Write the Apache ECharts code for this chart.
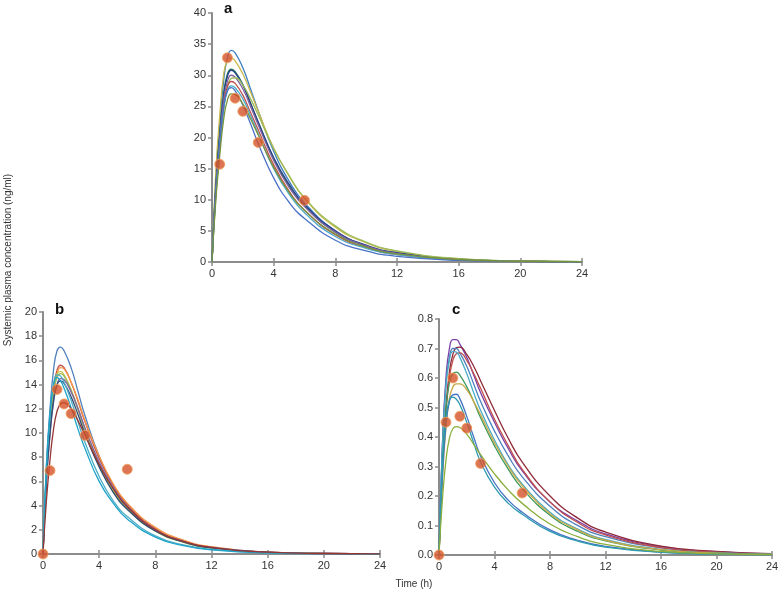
<!DOCTYPE html>
<html>
<head>
<meta charset="utf-8">
<script src="https://cdn.jsdelivr.net/npm/echarts@6/dist/echarts.min.js"></script>
<style>html,body{margin:0;padding:0;background:#fff}#c{width:784px;height:595px}</style>
</head>
<body>
<div id="c"></div>
<script>
// Time grid of the simulated curves (h)
var times = [0, 0.25, 0.5, 0.75, 1, 1.25, 1.5, 2, 2.5, 3, 4, 5, 6, 8, 10, 12, 16, 20, 24];
var xTicks = [0, 4, 8, 12, 16, 20, 24];

// Panel a
var curvesA = [
  [0,13.5,22,29,32.8,34,33.6,31.2,27.8,24.3,17.8,13.0,9.5,5.0,2.6,1.4,0.4,0.12,0.04],
  [0,14.5,23.5,30,32.5,32.8,32.3,30.2,27.3,24.2,18.3,13.8,10.2,5.6,3.1,1.7,0.5,0.16,0.05],
  [0,12.5,20.5,27,30.2,31,30.6,28.5,25.5,22.4,16.6,12.2,9.0,4.8,2.6,1.4,0.42,0.13,0.04],
  [0,12,20,26.5,29.8,30.8,30.4,28.4,25.5,22.5,16.8,12.5,9.2,5.0,2.7,1.5,0.45,0.14,0.04],
  [0,11.8,19.5,25.8,29,30,29.7,27.8,25,22,16.3,12,8.9,4.8,2.6,1.4,0.42,0.13,0.04],
  [0,10.5,18,24.5,28,29.5,29.6,28.4,26.2,23.6,18.2,13.9,10.3,5.8,3.2,1.8,0.55,0.17,0.05],
  [0,11.2,18.8,25,28.2,29,28.7,26.8,24,21.2,15.6,11.4,8.3,4.4,2.3,1.2,0.36,0.11,0.03],
  [0,11,18.5,24.4,27.5,28.3,28,26.2,23.5,20.6,15,10.9,7.9,4.1,2.2,1.2,0.34,0.1,0.03],
  [0,11.5,19,24.8,27.5,28,27.5,25.2,22.2,19,13.5,9.6,7.0,3.5,1.8,0.9,0.25,0.07,0.02],
  [0,10,17,22.8,26,27,26.9,25.4,23,20.4,15.2,11.2,8.3,4.5,2.4,1.3,0.4,0.12,0.04]
];
var colorsA = ['#3F7FC1','#C9B94A','#1E7A4E','#26408B','#8064A2','#9BBB59','#C0504D','#4BACC6','#4A72C8','#77933C'];
var obsTimesA = [0.5, 1, 1.5, 2, 3, 6];
var obsA = [15.7, 32.8, 26.3, 24.2, 19.2, 9.9];

// Panel b
var curvesB = [
  [0,7.5,12,15.2,16.8,17.1,16.8,15.4,13.4,11.4,8.1,5.7,4.0,2.0,1.0,0.5,0.13,0.035,0.01],
  [0,6.8,10.8,13.7,15.2,15.6,15.4,14.2,12.6,10.9,7.9,5.7,4.1,2.1,1.1,0.56,0.15,0.04,0.01],
  [0,6.6,10.6,13.4,14.9,15.4,15.3,14.2,12.7,11.0,8.1,5.8,4.2,2.2,1.15,0.6,0.16,0.045,0.012],
  [0,7,11,13.8,14.9,15.1,14.8,13.6,12.0,10.3,7.4,5.3,3.8,1.9,1.0,0.5,0.13,0.035,0.01],
  [0,6.7,10.6,13.3,14.6,14.9,14.7,13.5,11.9,10.2,7.3,5.2,3.7,1.9,0.97,0.5,0.13,0.035,0.01],
  [0,6,9.8,12.5,14,14.5,14.4,13.4,12,10.4,7.6,5.5,3.9,2.0,1.05,0.54,0.15,0.04,0.01],
  [0,6.2,10,12.7,14,14.3,14.1,13,11.5,9.9,7.2,5.1,3.7,1.9,1.0,0.5,0.14,0.04,0.01],
  [0,7.2,11.4,14,14.8,14.7,14.2,12.7,10.9,9.2,6.4,4.4,3.1,1.5,0.75,0.38,0.1,0.03,0.008],
  [0,7.4,11.6,14,14.6,14.3,13.7,12.1,10.3,8.7,6.0,4.2,2.9,1.4,0.7,0.35,0.09,0.025,0.007],
  [0,4.5,7.8,10.3,11.8,12.4,12.5,12,11,9.8,7.4,5.4,3.9,2.0,1.05,0.55,0.15,0.04,0.01]
];
var colorsB = ['#4F81BD','#C0504D','#F79646','#C8C24A','#9BBB59','#8064A2','#2C4D75','#4BACC6','#1FA3C9','#943634'];
var obsTimesB = [0, 0.5, 1, 1.5, 2, 3, 6];
var obsB = [0, 6.9, 13.6, 12.4, 11.6, 9.8, 7.0];

// Panel c
var curvesC = [
  [0,0.38,0.6,0.7,0.73,0.73,0.715,0.67,0.61,0.55,0.45,0.36,0.285,0.18,0.115,0.072,0.028,0.011,0.004],
  [0,0.3,0.5,0.62,0.68,0.703,0.705,0.68,0.64,0.59,0.49,0.395,0.315,0.2,0.125,0.078,0.03,0.012,0.005],
  [0,0.37,0.58,0.67,0.7,0.7,0.685,0.64,0.58,0.52,0.42,0.335,0.265,0.165,0.1,0.062,0.024,0.009,0.0035],
  [0,0.29,0.48,0.6,0.66,0.682,0.685,0.66,0.615,0.565,0.46,0.37,0.29,0.18,0.11,0.068,0.025,0.009,0.0035],
  [0,0.36,0.57,0.66,0.69,0.688,0.67,0.615,0.55,0.49,0.39,0.305,0.24,0.145,0.088,0.053,0.019,0.007,0.0025],
  [0,0.3,0.49,0.585,0.615,0.62,0.61,0.57,0.52,0.465,0.37,0.29,0.225,0.135,0.08,0.048,0.017,0.006,0.002],
  [0,0.26,0.43,0.53,0.57,0.58,0.58,0.56,0.52,0.475,0.38,0.3,0.235,0.14,0.085,0.05,0.018,0.006,0.002],
  [0,0.27,0.44,0.52,0.543,0.545,0.53,0.47,0.4,0.335,0.245,0.185,0.145,0.085,0.05,0.029,0.01,0.0035,0.0012],
  [0,0.3,0.46,0.525,0.535,0.528,0.51,0.45,0.38,0.315,0.23,0.175,0.138,0.08,0.047,0.027,0.009,0.003,0.001],
  [0,0.19,0.32,0.395,0.428,0.435,0.432,0.41,0.375,0.34,0.275,0.22,0.175,0.105,0.062,0.036,0.012,0.004,0.0015]
];
var colorsC = ['#7B3FA8','#8E2A3A','#4F81BD','#C0504D','#4BACC6','#3E9A5A','#C9A94A','#4472C4','#2E9AB0','#8AAF3C'];
var obsTimesC = [0, 0.5, 1, 1.5, 2, 3, 6];
var obsC = [0, 0.45, 0.60, 0.47, 0.43, 0.31, 0.21];

var yMaxA = 40, yStepA = 5;
var yMaxB = 20, yStepB = 2;
var yMaxC = 0.8, yStepC = 0.1;

var FONT = 'Arial, "Liberation Sans", sans-serif';
var AXIS_COLOR = '#8c8c8c';
var LABEL_COLOR = '#333';

var grids = [
  {left: 212, top: 13, width: 370, height: 249},
  {left: 43, top: 312, width: 337, height: 242},
  {left: 439, top: 319, width: 333, height: 236}
];
var yConf = [[yMaxA, yStepA, null], [yMaxB, yStepB, null], [yMaxC, yStepC, function(v){return v.toFixed(1);}]];

var xAxes = [], yAxes = [], series = [];
for (var g = 0; g < 3; g++) {
  xAxes.push({
    gridIndex: g, type: 'value', min: 0, max: 24, interval: 4,
    axisLine: {show: true, lineStyle: {color: AXIS_COLOR, width: 2}},
    axisTick: {show: true, length: 4, lineStyle: {color: AXIS_COLOR, width: 1.5}},
    axisLabel: {color: LABEL_COLOR, fontSize: 11, fontFamily: FONT, margin: 6},
    splitLine: {show: false}
  });
  xAxes.push({
    gridIndex: g, type: 'value', min: 0, max: 24, interval: 4, position: 'bottom',
    axisLine: {show: false},
    axisTick: {show: true, inside: true, length: 4, lineStyle: {color: AXIS_COLOR, width: 1.5}},
    axisLabel: {show: false}, splitLine: {show: false}
  });
  var yl = {color: LABEL_COLOR, fontSize: 11, fontFamily: FONT, margin: 6};
  if (yConf[g][2]) yl.formatter = yConf[g][2];
  yAxes.push({
    gridIndex: g, type: 'value', min: 0, max: yConf[g][0], interval: yConf[g][1],
    axisLine: {show: true, lineStyle: {color: AXIS_COLOR, width: 2}},
    axisTick: {show: true, length: 4, lineStyle: {color: AXIS_COLOR, width: 1.5}},
    axisLabel: yl, splitLine: {show: false}
  });
}

function addPanel(g, curves, colors, obsT, obsV) {
  curves.forEach(function(c, i) {
    series.push({
      type: 'line', xAxisIndex: g * 2, yAxisIndex: g, smooth: 0.5,
      showSymbol: false, symbol: 'none', silent: true,
      lineStyle: {color: colors[i], width: 1.3},
      data: times.map(function(t, k) { return [t, c[k]]; })
    });
  });
  series.push({
    type: 'scatter', xAxisIndex: g * 2, yAxisIndex: g, symbolSize: 10, clip: false, z: 10,
    itemStyle: {color: '#D5522B', borderColor: '#F2A05A', borderWidth: 1},
    data: obsT.map(function(t, k) { return [t, obsV[k]]; })
  });
}
addPanel(0, curvesA, colorsA, obsTimesA, obsA);
addPanel(1, curvesB, colorsB, obsTimesB, obsB);
addPanel(2, curvesC, colorsC, obsTimesC, obsC);

var chart = echarts.init(document.getElementById('c'), null, {renderer: 'canvas'});
chart.setOption({
  animation: false,
  backgroundColor: '#fff',
  grid: grids,
  xAxis: xAxes,
  yAxis: yAxes,
  series: series,
  graphic: [
    {type: 'text', left: 224, top: 1, style: {text: 'a', font: 'bold 15px ' + FONT, fill: '#111'}},
    {type: 'text', left: 55, top: 302, style: {text: 'b', font: 'bold 15px ' + FONT, fill: '#111'}},
    {type: 'text', left: 452, top: 302, style: {text: 'c', font: 'bold 15px ' + FONT, fill: '#111'}},
    {type: 'text', x: 8, y: 260, rotation: Math.PI / 2,
     style: {text: 'Systemic plasma concentration (ng/ml)', font: '10px ' + FONT, fill: LABEL_COLOR, align: 'center', verticalAlign: 'middle'}},
    {type: 'text', x: 414, y: 584,
     style: {text: 'Time (h)', font: '10px ' + FONT, fill: LABEL_COLOR, align: 'center', verticalAlign: 'middle'}}
  ]
});
</script>
</body>
</html>
